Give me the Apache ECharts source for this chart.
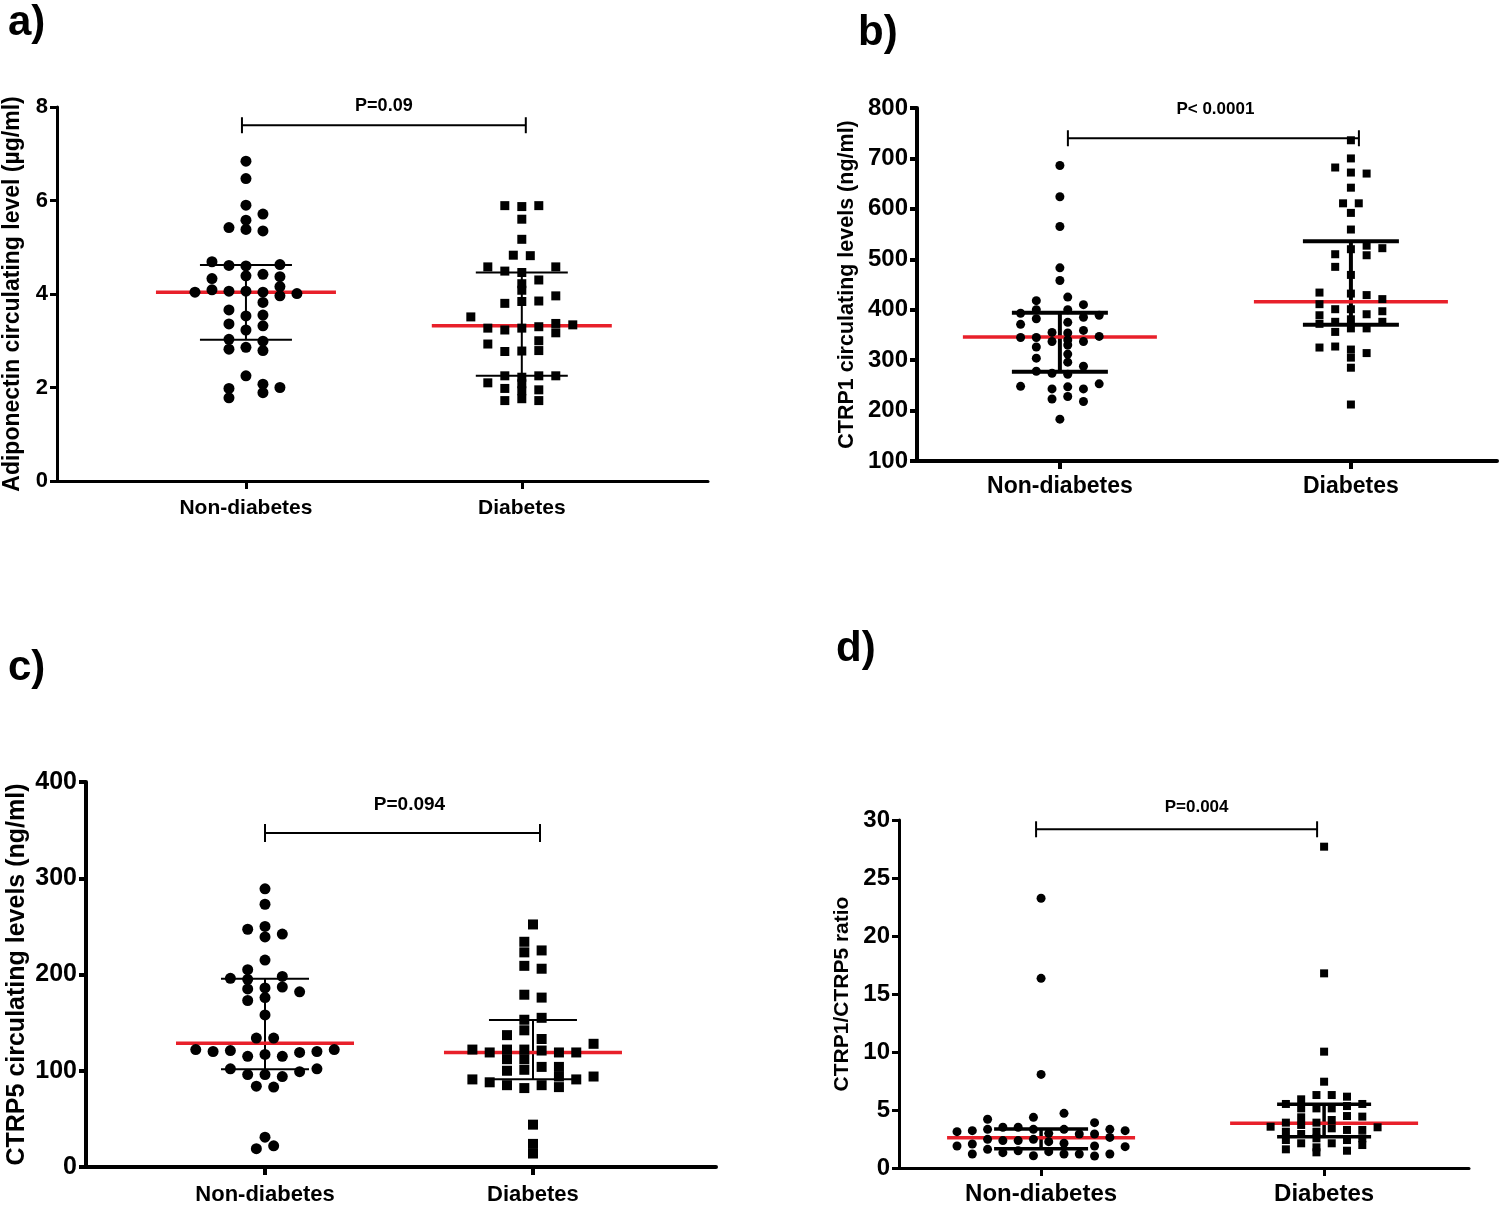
<!DOCTYPE html>
<html><head><meta charset="utf-8">
<script src="https://cdn.jsdelivr.net/npm/echarts@6/dist/echarts.min.js"></script>
<style>html,body{margin:0;padding:0;background:#fff}#c{width:1499px;height:1206px}</style>
</head><body><div id="c"></div>
<script>
// ---------------- DATA ----------------
const categories = ['Non-diabetes', 'Diabetes'];

// a) Adiponectin (µg/ml)
const aNonVals = [6.84,6.47,5.90,5.71,5.58,5.42,5.38,5.35,4.69,4.61,4.60,4.63,4.39,4.42,4.37,4.33,4.09,4.16,4.04,4.06,4.06,4.04,3.96,4.01,3.82,3.66,3.53,3.55,3.36,3.32,3.23,3.03,2.99,2.82,2.86,2.79,2.25,1.98,2.07,2.00,1.89,1.78];
const aNonCols = [0,0,0,1,0,-1,0,1,-2,-1,0,2,0,1,2,-2,-2,2,-3,-1,0,1,2,3,1,-1,0,1,-1,1,0,-1,1,-1,0,1,0,-1,1,2,1,-1];
const aDiaVals = [5.89,5.87,5.89,5.60,5.17,4.83,4.82,4.58,4.49,4.46,4.58,4.22,4.08,4.30,3.96,3.80,3.84,3.85,3.51,3.27,3.23,3.27,3.30,3.37,3.17,3.34,2.93,3.00,2.79,2.77,2.78,2.25,2.22,2.08,1.93,1.76,2.25,2.25,2.10,1.98,1.95,1.72,1.72];
const aDiaCols = [-1,0,1,0,0,-0.5,0.5,-2,-1,0,2,0,0,1,2,-1,0,1,-3,-2,-1,0,1,2,2,3,-2,1,1,-1,0,-1,0,0,0,0,1,2,-2,-1,1,-1,1];
const aMedian = [4.04, 3.32];
const aLower = [3.02, 2.25];
const aUpper = [4.62, 4.46];
const aTicks = [0, 8, 2];
const aP = 'P=0.09';
const aBracket = 7.61;

// b) CTRP1 (ng/ml)
const bNonVals = [686,624,565,483,458,425,418,410,393,400,400,389,382,385,375,371,355,354,359,345,345,337,340,337,347,326,330,304,312,296,288,278,274,272,248,243,247,243,253,223,228,218,183];
const bNonCols = [0,0,0,0,0,0.5,-1.5,1.5,-2.5,-1.5,0.5,2.5,-1.5,1.5,0.5,-2.5,-0.5,0.5,1.5,-2.5,-1.5,-0.5,0.5,1.5,2.5,-1.5,0.5,-1.5,0.5,0.5,1.5,-1.5,-0.5,0.5,-2.5,-0.5,0.5,1.5,2.5,-0.5,0.5,1.5,0];
const bDiaVals = [736,700,682,672,670,642,611,611,592,559,520,527,522,510,508,485,469,434,432,429,421,411,401,401,391,397,389,372,376,381,363,363,376,356,325,327,321,305,314,285,212];
const bDiaCols = [0,0,-1,0,1,0,-0.5,0.5,0,0,0,1,2,-1,1,-1,0,-2,0,1,2,-2,-1,0,1,2,-2,-2,-1,0,0,1,2,-1,-2,-1,0,0,1,0,0];
const bMedian = [346, 416];
const bLower = [277, 370];
const bUpper = [394, 536];
const bTicks = [100, 800, 100];
const bP = 'P< 0.0001';
const bBracket = 740;

// c) CTRP5 (ng/ml)
const cNonVals = [289,273,247,250,239,242,215,205,196,195,198,185,186,187,182,173,176,158,134,134,122,120,121,115,117,115,119,120,122,102,96,96,94,99,102,84,83,31,19,22];
const cNonCols = [0,0,-1,0,0,1,0,-1,-2,-1,1,-1,0,1,2,-1,0,0,-0.5,0.5,-4,-3,-2,-1,0,1,2,3,4,-2,-1,0,1,2,3,-0.5,0.5,0,-0.5,0.5];
const cDiaVals = [252,234,223,225,209,206,179,176,153,155,142,137,133,128,122,119,122,122,121,119,119,112,112,104,104,100,101,94,91,88,91,94,85,82,85,83,44,24,14];
const cDiaCols = [0,-0.5,-0.5,0.5,-0.5,0.5,-0.5,0.5,-0.5,0.5,-0.5,-1.5,0.5,3.5,-3.5,-2.5,-1.5,-0.5,0.5,1.5,2.5,-1.5,-0.5,0.5,1.5,-1.5,-0.5,1.5,-3.5,-2.5,2.5,3.5,-1.5,-0.5,0.5,1.5,0,0,0];
const cMedian = [128.5, 119];
const cLower = [101.6, 91.2];
const cUpper = [195.5, 152.7];
const cTicks = [0, 400, 100];
const cP = 'P=0.094';
const cBracket = 347;

// d) CTRP1/CTRP5 ratio
const dNonVals = [23.25,16.35,8.07,4.20,4.37,4.71,3.91,3.51,3.51,3.33,3.33,3.33,3.13,3.22,2.99,2.93,2.93,3.33,3.22,2.47,2.36,2.36,2.47,2.27,2.64,1.90,2.07,2.13,1.90,1.84,1.61,1.32,1.49,1.41,1.21,1.21,1.21,1.06,1.03,1.21];
const dNonCols = [0,0,0,-3.5,-0.5,1.5,3.5,-2.5,-1.5,-3.5,-0.5,1.5,-5.5,-4.5,0.5,2.5,3.5,4.5,5.5,-3.5,-2.5,-1.5,-0.5,0.5,4.5,-5.5,-4.5,1.5,3.5,5.5,-3.5,-2.5,-1.5,0.5,1.5,2.5,-4.5,-0.5,3.5,4.5];
const dDiaVals = [27.7,16.78,10.03,7.44,6.29,6.29,6.15,5.92,5.52,5.52,5.14,5.14,5.14,5.34,4.37,4.48,4.43,4.14,3.91,3.91,3.56,3.71,3.42,3.51,3.13,3.13,3.28,3.28,2.41,2.93,2.56,2.41,2.56,2.13,2.13,1.98,1.61,1.78,1.49,1.35];
const dDiaCols = [0,0,0,0,-0.5,0.5,1.5,-1.5,-2.5,2.5,-1.5,-0.5,0.5,1.5,-1.5,1.5,2.5,0.5,-2.5,-0.5,-3.5,-1.5,0.5,3.5,-2.5,-0.5,1.5,2.5,-2.5,-1.5,-0.5,1.5,2.5,-1.5,0.5,2.5,-2.5,-0.5,1.5,-0.5];
const dMedian = [2.61, 3.85];
const dLower = [1.67, 2.70];
const dUpper = [3.36, 5.49];
const dTicks = [0, 30, 5];
const dP = 'P=0.004';
const dBracket = 29.2;

// ---------------- LAYOUT / STYLE ----------------
const FONT = '"Liberation Sans", Arial, Helvetica, sans-serif';
const RED = '#e8202a';
const panels = [
  { letter:'a)', lx:28, ly:24, grid:{left:57, top:107, width:651, height:374}, xr:[0.315,2.675],
    title:'Adiponectin circulating level (\u00b5g/ml)', titleSize:23, nameGap:33,
    tickSize:22, catSize:21, catMargin:17, axisW:3, pSize:18, pDy:19, pDx:0,
    colStep:0.0616, cSize:11, sSize:9, redHalf:90, barHalf:46, barW:2, capPx:8, brL:-4, brR:4,
    non:[aNonVals,aNonCols], dia:[aDiaVals,aDiaCols], med:aMedian, lo:aLower, hi:aUpper, ticks:aTicks, p:aP, br:aBracket },
  { letter:'b)', lx:878, ly:34, grid:{left:917, top:108, width:580, height:353}, xr:[0.509,2.502],
    title:'CTRP1 circulating levels (ng/ml)', titleSize:21.5, nameGap:59,
    tickSize:24, catSize:23, catMargin:14, axisW:4, pSize:17, pDy:29, pDx:2,
    colStep:0.054, cSize:9, sSize:8, redHalf:97, barHalf:48, barW:4, capPx:8, brL:8, brR:8,
    non:[bNonVals,bNonCols], dia:[bDiaVals,bDiaCols], med:bMedian, lo:bLower, hi:bUpper, ticks:bTicks, p:bP, br:bBracket },
  { letter:'c)', lx:28, ly:669, grid:{left:86, top:782, width:630, height:386}, xr:[0.332,2.683],
    title:'CTRP5 circulating levels (ng/ml)', titleSize:25, nameGap:56,
    tickSize:25, catSize:22, catMargin:17, axisW:4, pSize:19, pDy:28, pDx:7,
    colStep:0.0646, cSize:11, sSize:10, redHalf:89, barHalf:44, barW:2, capPx:9, brL:0, brR:7,
    non:[cNonVals,cNonCols], dia:[cDiaVals,cDiaCols], med:cMedian, lo:cLower, hi:cUpper, ticks:cTicks, p:cP, br:cBracket },
  { letter:'d)', lx:856, ly:650, grid:{left:899, top:820, width:570, height:348}, xr:[0.498,2.512],
    title:'CTRP1/CTRP5 ratio', titleSize:21, nameGap:46,
    tickSize:24, catSize:24, catMargin:14, axisW:3, pSize:17, pDy:22, pDx:20,
    colStep:0.054, cSize:9, sSize:8, redHalf:94, barHalf:47, barW:3.5, capPx:8, brL:-5, brR:-7,
    non:[dNonVals,dNonCols], dia:[dDiaVals,dDiaCols], med:dMedian, lo:dLower, hi:dUpper, ticks:dTicks, p:dP, br:dBracket }
];

function pts(pair, group, step) {
  return pair[0].map((v, i) => [group + pair[1][i] * step, v]);
}

const option = { animation:false, backgroundColor:'#fff', grid:[], xAxis:[], yAxis:[], series:[], graphic:[] };

panels.forEach((P, k) => {
  option.grid.push(P.grid);
  option.xAxis.push({
    type:'value', gridIndex:k, min:P.xr[0], max:P.xr[1],
    splitLine:{show:false},
    axisLine:{show:true, onZero:false, lineStyle:{color:'#000', width:P.axisW}},
    axisTick:{show:true, length:8, lineStyle:{color:'#000', width:P.axisW}, customValues:[1,2]},
    axisLabel:{show:true, customValues:[1,2], margin:P.catMargin, color:'#000', fontFamily:FONT, fontWeight:'bold', fontSize:P.catSize,
      formatter:(v) => categories[Math.round(v) - 1] || ''}
  });
  option.yAxis.push({
    type:'value', gridIndex:k, min:P.ticks[0], max:P.ticks[1], interval:P.ticks[2],
    splitLine:{show:false},
    axisLine:{show:true, onZero:false, lineStyle:{color:'#000', width:P.axisW}},
    axisTick:{show:true, length:7, lineStyle:{color:'#000', width:P.axisW}},
    axisLabel:{margin:9, color:'#000', fontFamily:FONT, fontWeight:'bold', fontSize:P.tickSize},
    name:P.title, nameLocation:'middle', nameGap:P.nameGap,
    nameTextStyle:{color:'#000', fontFamily:FONT, fontWeight:'bold', fontSize:P.titleSize}
  });
  // summary lines (median red, error bars black)
  option.series.push({
    type:'custom', xAxisIndex:k, yAxisIndex:k, z:2, clip:false,
    data:[[1, P.med[0], P.lo[0], P.hi[0]], [2, P.med[1], P.lo[1], P.hi[1]]],
    renderItem:(params, api) => {
      const x = api.value(0);
      const pm = api.coord([x, api.value(1)]);
      const pl = api.coord([x, api.value(2)]);
      const ph = api.coord([x, api.value(3)]);
      const blk = {stroke:'#000', lineWidth:P.barW};
      return {type:'group', children:[
        {type:'line', shape:{x1:pl[0], y1:pl[1], x2:ph[0], y2:ph[1]}, style:blk},
        {type:'line', shape:{x1:ph[0]-P.barHalf, y1:ph[1], x2:ph[0]+P.barHalf, y2:ph[1]}, style:blk},
        {type:'line', shape:{x1:pl[0]-P.barHalf, y1:pl[1], x2:pl[0]+P.barHalf, y2:pl[1]}, style:blk},
        {type:'line', shape:{x1:pm[0]-P.redHalf, y1:pm[1], x2:pm[0]+P.redHalf, y2:pm[1]}, style:{stroke:RED, lineWidth:3.5}}
      ]};
    }
  });
  // points
  option.series.push({
    type:'scatter', xAxisIndex:k, yAxisIndex:k, z:5, symbol:'circle', symbolSize:P.cSize,
    itemStyle:{color:'#000', opacity:1}, emphasis:{disabled:true}, data:pts(P.non, 1, P.colStep)
  });
  option.series.push({
    type:'scatter', xAxisIndex:k, yAxisIndex:k, z:5, symbol:'rect', symbolSize:P.sSize,
    itemStyle:{color:'#000', opacity:1}, emphasis:{disabled:true}, data:pts(P.dia, 2, P.colStep)
  });
  // significance bracket
  option.series.push({
    type:'custom', xAxisIndex:k, yAxisIndex:k, z:3, clip:false,
    data:[[1, 2, P.br]],
    renderItem:(params, api) => {
      const a = api.coord([api.value(0), api.value(2)]);
      const b = api.coord([api.value(1), api.value(2)]);
      const x1 = a[0] + P.brL, x2 = b[0] + P.brR, y = a[1];
      const st = {stroke:'#000', lineWidth:2};
      return {type:'group', children:[
        {type:'line', shape:{x1:x1, y1:y, x2:x2, y2:y}, style:st},
        {type:'line', shape:{x1:x1, y1:y-P.capPx, x2:x1, y2:y+P.capPx}, style:st},
        {type:'line', shape:{x1:x2, y1:y-P.capPx, x2:x2, y2:y+P.capPx}, style:st},
        {type:'text', style:{text:P.p, x:(x1+x2)/2 + P.pDx, y:y - P.pDy, align:'center', verticalAlign:'middle',
          fill:'#000', font:'bold ' + P.pSize + 'px ' + FONT}}
      ]};
    }
  });
  option.graphic.push({type:'text', left:P.lx - 20, top:P.ly - 22,
    style:{text:P.letter, fill:'#000', font:'bold 42px ' + FONT}});
});

const chart = echarts.init(document.getElementById('c'), null, {renderer:'canvas'});
chart.setOption(option);
</script>
</body></html>
